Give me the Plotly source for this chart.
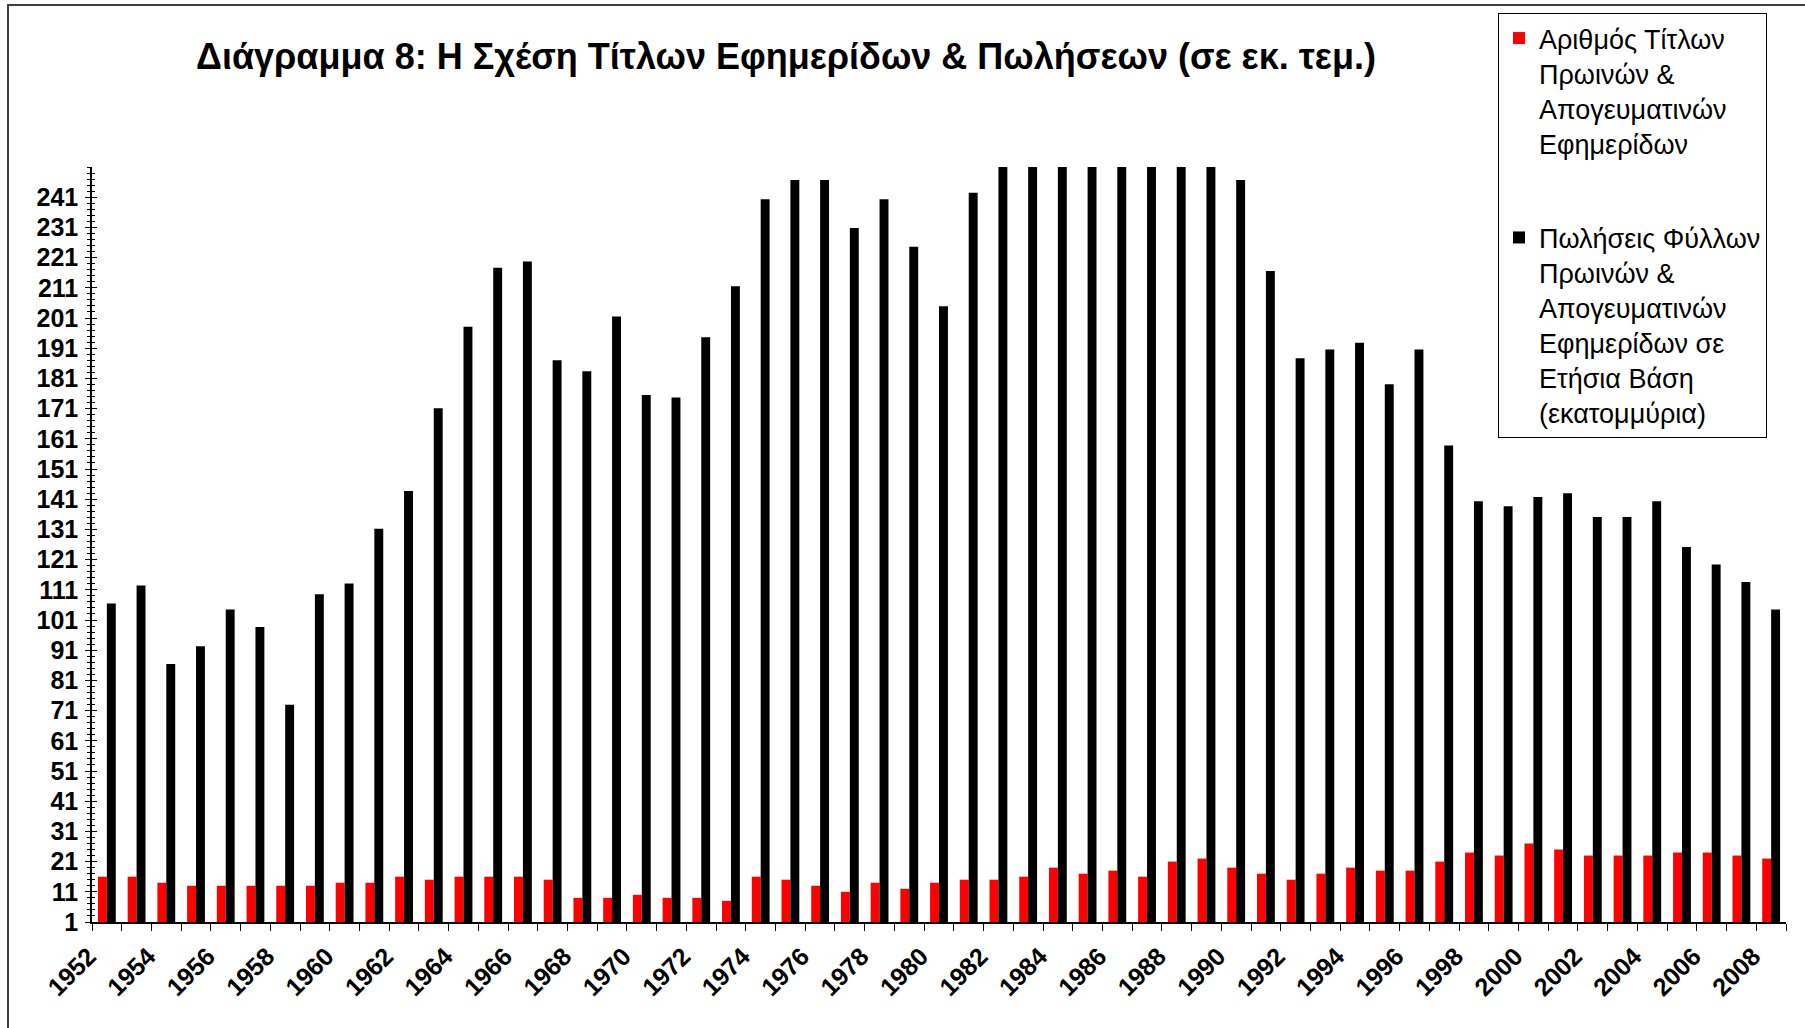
import plotly.graph_objects as go

# ---------------- data ----------------
years = [str(y) for y in range(1952, 2009)]
year_labels = [y if int(y) % 2 == 0 else "" for y in years]

titles = [16, 16, 14, 13, 13, 13, 13, 13, 14, 14,
          16, 15, 16, 16, 16, 15, 9, 9, 10, 9,
          9, 8, 16, 15, 13, 11, 14, 12, 14, 15,
          15, 16, 19, 17, 18, 16, 21, 22, 19, 17,
          15, 17, 19, 18, 18, 21, 24, 23, 27, 25,
          23, 23, 23, 24, 24, 23, 22]

# 1982-1989 run above the axis maximum (251) and are clipped in the original
sales = [106.5, 112.4, 86.4, 92.3, 104.5, 98.7, 72.9, 109.5, 113.1, 131.2,
         143.7, 171.1, 198.1, 217.6, 219.7, 187.0, 183.4, 201.5, 175.5, 174.7,
         194.6, 211.5, 240.3, 246.7, 246.7, 230.8, 240.3, 224.6, 204.9, 242.5,
         258, 262, 265, 268, 266, 263, 260, 256, 246.7, 216.6,
         187.7, 190.6, 192.8, 179.1, 190.6, 158.8, 140.3, 138.7, 141.7, 143.0,
         135.1, 135.1, 140.3, 125.2, 119.4, 113.6, 104.5]

y_ticks = list(range(1, 251, 10))

name_titles = "Αριθμός Τίτλων<br>Πρωινών &<br>Απογευματινών<br>Εφημερίδων"
name_sales = ("Πωλήσεις Φύλλων<br>Πρωινών &<br>Απογευματινών<br>Εφημερίδων σε"
              "<br>Ετήσια Βάση<br>(εκατομμύρια)")
title_text = "Διάγραμμα 8: Η Σχέση Τίτλων Εφημερίδων & Πωλήσεων (σε εκ. τεμ.)"

FONT = "Liberation Sans, Arial, sans-serif"

# ---------------- figure ----------------
fig = go.Figure()
fig.add_trace(go.Bar(x=years, y=titles, name=name_titles,
                     marker=dict(color="#ff0000", line=dict(width=0)),
                     legendgroup="a"))
fig.add_trace(go.Bar(x=years, y=sales, name=name_sales,
                     marker=dict(color="#000000", line=dict(width=0)),
                     legendgroup="b"))
# invisible trace to carry the duplicate (inner-tick) y axis
fig.add_trace(go.Scatter(x=[years[0]], y=[None], yaxis="y2",
                         showlegend=False, hoverinfo="skip"))

L, R, T, B = 92, 1786, 167, 922
W, H = 1805, 1028

fig.update_layout(
    width=W, height=H,
    margin=dict(l=L, r=W - R, t=T, b=H - B, pad=0),
    paper_bgcolor="white", plot_bgcolor="white",
    barmode="group", bargap=0.4, bargroupgap=0,
    font=dict(family=FONT, color="black"),
    title=dict(text="<b>" + title_text + "</b>",
               font=dict(family=FONT, size=36, color="black"),
               x=(786 - L) / (R - L), xref="paper", xanchor="center",
               y=1 - 56 / H, yref="container", yanchor="middle"),
    xaxis=dict(type="category",
               tickmode="array", tickvals=years, ticktext=year_labels,
               tickson="boundaries", ticks="outside", ticklen=7,
               tickcolor="black", tickwidth=1,
               tickangle=-45, ticklabelshift=-18, ticklabelstandoff=8,
               tickfont=dict(family=FONT, size=25, color="black", weight="bold"),
               showline=True, linecolor="black", linewidth=1.5,
               showgrid=False, zeroline=False,
               range=[-0.5, len(years) - 0.5]),
    yaxis=dict(range=[1, 251], tickmode="array", tickvals=y_ticks,
               ticks="outside", ticklen=5, tickcolor="black", tickwidth=1,
               ticklabelstandoff=2,
               minor=dict(tickmode="linear", tick0=1, dtick=2,
                          ticks="outside", ticklen=3, tickcolor="black"),
               tickfont=dict(family=FONT, size=25, color="black", weight="bold"),
               showline=True, linecolor="black", linewidth=1.5,
               showgrid=False, zeroline=False),
    yaxis2=dict(range=[1, 251], overlaying="y", side="left", anchor="x",
                tickmode="array", tickvals=y_ticks,
                ticks="inside", ticklen=5, tickcolor="black", tickwidth=1,
                minor=dict(tickmode="linear", tick0=1, dtick=2,
                           ticks="inside", ticklen=3, tickcolor="black"),
                showticklabels=False, showline=False,
                showgrid=False, zeroline=False),
    legend=dict(x=(1498 - L) / (R - L), y=(B - 13) / (B - T),
                xanchor="left", yanchor="top",
                bgcolor="white", bordercolor="black", borderwidth=1,
                font=dict(family=FONT, size=27, color="black"),
                valign="top", tracegroupgap=56, traceorder="grouped"),
    showlegend=True,
)

# outer chart frame
fig.add_shape(type="rect", xref="paper", yref="paper",
              x0=(8 - L) / (R - L), x1=(W + 20 - L) / (R - L),
              y0=(B - (H + 20)) / (B - T), y1=(B - 5) / (B - T),
              line=dict(color="#404040", width=2), fillcolor="rgba(0,0,0,0)",
              layer="below")

fig.write_html("out.html",
               config={"displayModeBar": False},
               post_script="document.body.style.margin='0';"
                           "document.body.style.overflow='hidden';")
